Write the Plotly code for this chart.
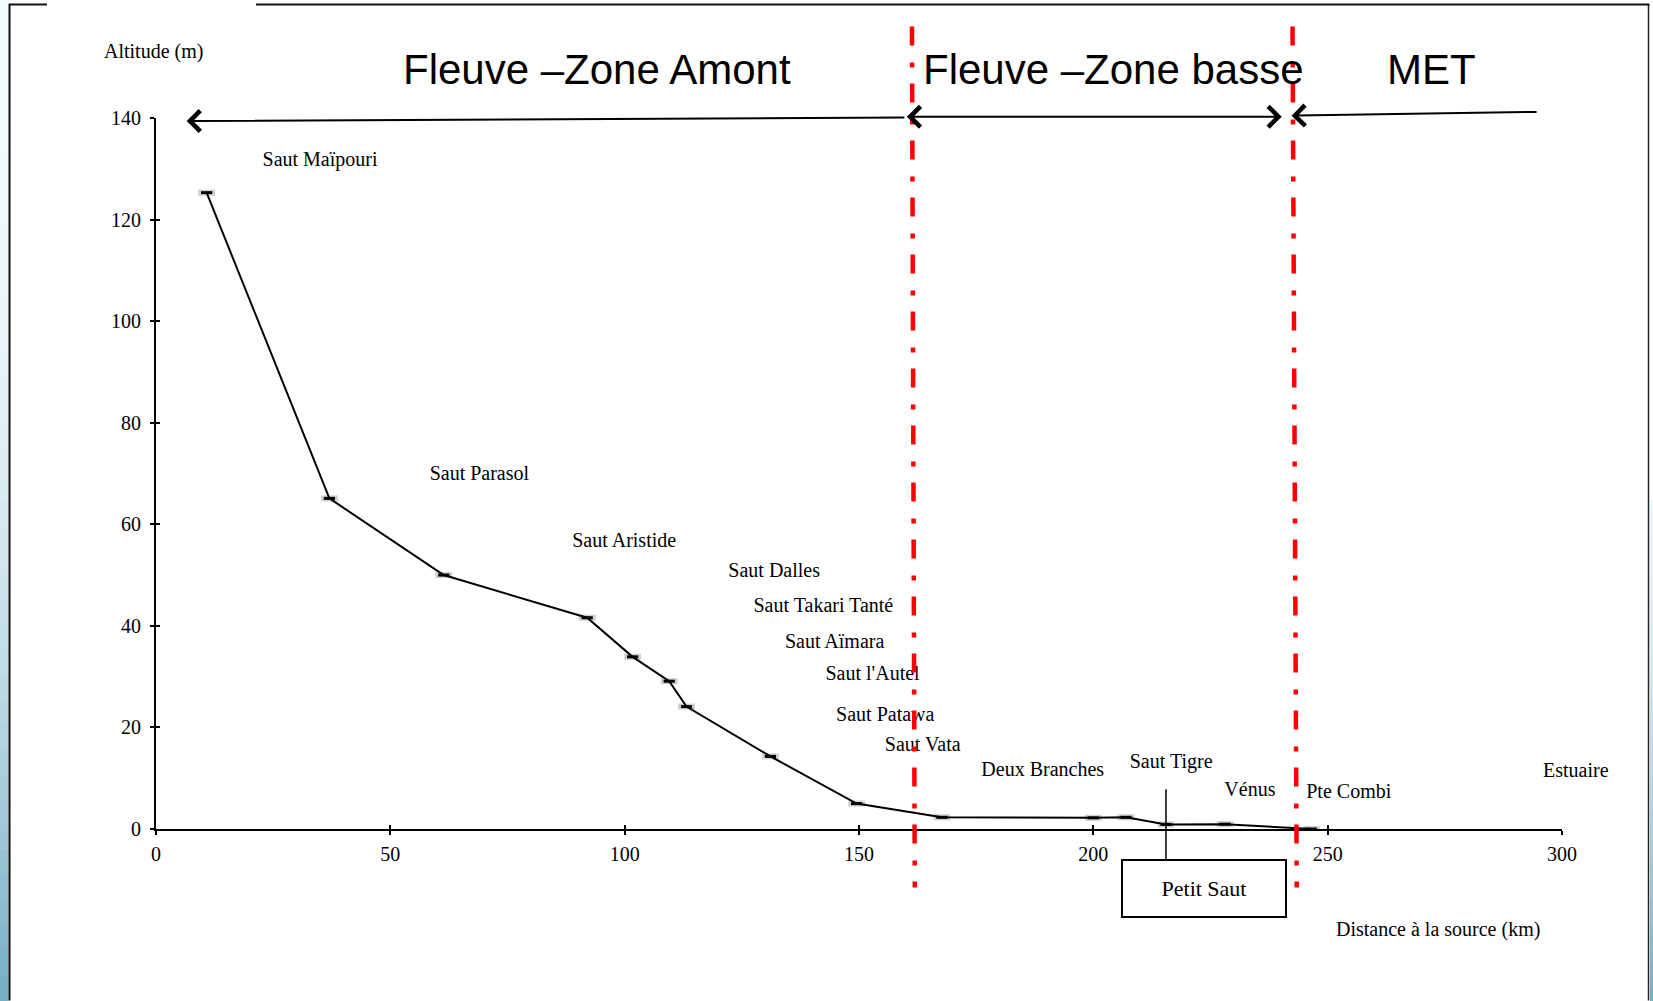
import plotly.graph_objects as go

W, H = 1653, 1001

# ---------------- data ----------------
DIST_KM = [10.8, 37.0, 61.4, 92.0, 101.7, 109.5, 113.2, 131.1, 149.5, 167.7, 200.0, 207.0, 215.5, 228.1, 246.5]
ALT_M = [125.3, 65.1, 50.0, 41.6, 33.9, 29.1, 24.1, 14.3, 5.0, 2.3, 2.2, 2.3, 0.9, 0.95, 0.0]

SITE_NAMES = ["Saut Maïpouri", "Saut Parasol", "Saut Aristide", "Saut Dalles",
              "Saut Takari Tanté", "Saut Aïmara", "Saut l'Autel", "Saut Patawa",
              "Saut Vata", "Deux Branches", "Saut Tigre", "Vénus", "Pte Combi"]
SITE_X = [35.0, 69.0, 99.9, 131.9, 142.4, 144.8, 152.9, 155.6, 163.6, 189.2, 216.6, 233.4, 254.5]
SITE_Y = [131.5, 69.8, 56.6, 50.7, 43.7, 36.6, 30.4, 22.2, 16.3, 11.4, 13.0, 7.4, 7.0]

ESTUARY = ("Estuaire", 303.0, 11.6)
Y_TITLE = ("Altitude (m)", -0.5, 153.0)
X_TITLE = ("Distance à la source (km)", 273.6, -19.7)

ZONE_NAMES = ["Fleuve \u2013Zone Amont", "Fleuve \u2013Zone basse", "MET"]
ZONE_X = [94.0, 204.3, 272.2]
ZONE_Y = [149.5, 149.5, 149.5]

# zone boundaries (km): top / bottom ends of the slightly slanted dash-dot lines
BOUND_TOP_KM = [161.3, 242.5]
BOUND_BOT_KM = [161.9, 243.4]
BOUND_TOP_ALT = 158.0
BOUND_BOT_ALT = -11.5

X_TICKS = [0, 50, 100, 150, 200, 250, 300]
Y_TICKS = [0, 20, 40, 60, 80, 100, 120, 140]
X_MAX, Y_MAX = 300, 140

PETIT_SAUT_KM = 215.5
BOX_CENTER = (223.6, -11.7)

# ---------------- layout geometry ----------------
ML, MR, MT, MB = 156, W - 1562, 118, H - 829.5
PW, PH = W - ML - MR, H - MT - MB


def px_x(p):
    return (p - ML) / PW


def px_y(p):
    return (H - MB - p) / PH


def xp(v):   # km -> paper
    return v / X_MAX


def yp(v):   # m -> paper
    return v / Y_MAX


SERIF = "Liberation Serif, Times New Roman, serif"
SANS = "Liberation Sans, Arial, sans-serif"

fig = go.Figure()

# shadow of markers
fig.add_trace(go.Scatter(
    x=DIST_KM, y=ALT_M, mode="markers",
    marker=dict(symbol="line-ew", size=12, line=dict(color="#cfcfcf", width=6)),
    hoverinfo="skip", showlegend=False))
# profile
fig.add_trace(go.Scatter(
    x=DIST_KM, y=ALT_M, mode="lines+markers",
    line=dict(color="black", width=2),
    marker=dict(symbol="line-ew", size=8, line=dict(color="black", width=3)),
    showlegend=False))
# site labels
fig.add_trace(go.Scatter(
    x=SITE_X, y=SITE_Y, mode="text", text=SITE_NAMES,
    textposition="middle center",
    textfont=dict(family=SERIF, size=20, color="black"),
    cliponaxis=False, hoverinfo="skip", showlegend=False))
# dummy trace for the overlay axes (cross ticks)
fig.add_trace(go.Scatter(x=[], y=[], xaxis="x2", yaxis="y2",
                         hoverinfo="skip", showlegend=False))

tickfont = dict(family=SERIF, size=20, color="black")
common = dict(showgrid=False, zeroline=False, automargin=False, fixedrange=True)

fig.update_layout(
    width=W, height=H,
    margin=dict(l=ML, r=MR, t=MT, b=MB, pad=0),
    paper_bgcolor="white", plot_bgcolor="rgba(0,0,0,0)",
    showlegend=False,
    xaxis=dict(range=[0, X_MAX], tickvals=X_TICKS, ticks="outside", ticklen=4,
               tickwidth=2, tickcolor="black", showline=True, linecolor="black",
               linewidth=2, tickfont=tickfont, ticklabelstandoff=2, **common),
    yaxis=dict(range=[0, Y_MAX], tickvals=Y_TICKS, ticks="outside", ticklen=4,
               tickwidth=2, tickcolor="black", showline=True, linecolor="black",
               linewidth=2, tickfont=tickfont, ticklabelstandoff=5, **common),
    xaxis2=dict(range=[0, X_MAX], tickvals=X_TICKS, ticks="inside", ticklen=4,
                tickwidth=2, tickcolor="black", showline=False, showticklabels=False,
                overlaying="x", anchor="y2", side="bottom", **common),
    yaxis2=dict(range=[0, Y_MAX], tickvals=Y_TICKS, ticks="inside", ticklen=4,
                tickwidth=2, tickcolor="black", showline=False, showticklabels=False,
                overlaying="y", anchor="x2", side="left", **common),
)

shapes = []
# slide-like background strip on the left (light blue gradient)
N = 40
for i in range(N):
    t = i / (N - 1)
    k = t ** 2.2
    c0, c1 = (244, 251, 253), (118, 176, 198)
    col = "rgb(%d,%d,%d)" % tuple(int(a + (b - a) * k) for a, b in zip(c0, c1))
    shapes.append(dict(type="rect", xref="paper", yref="paper",
                       x0=px_x(0), x1=px_x(8.5), y0=px_y(H * i / N), y1=px_y(H * (i + 1) / N + 1),
                       line=dict(width=0), fillcolor=col, layer="below"))
# right strip (lower part)
for i in range(N):
    t = i / (N - 1)
    k = t ** 1.5
    c0, c1 = (235, 245, 248), (118, 176, 198)
    col = "rgb(%d,%d,%d)" % tuple(int(a + (b - a) * k) for a, b in zip(c0, c1))
    y0p = 500 + (H - 500) * i / N
    y1p = 500 + (H - 500) * (i + 1) / N + 1
    shapes.append(dict(type="rect", xref="paper", yref="paper",
                       x0=px_x(1650), x1=px_x(W), y0=px_y(y0p), y1=px_y(y1p),
                       line=dict(width=0), fillcolor=col, layer="below"))
# frame
frame = dict(color="#111111", width=2)
shapes.append(dict(type="line", xref="paper", yref="paper", x0=px_x(9.5), x1=px_x(9.5),
                   y0=px_y(4), y1=px_y(H), line=frame))
shapes.append(dict(type="line", xref="paper", yref="paper", x0=px_x(9), x1=px_x(47),
                   y0=px_y(4.5), y1=px_y(4.5), line=frame))
shapes.append(dict(type="line", xref="paper", yref="paper", x0=px_x(256), x1=px_x(1649.5),
                   y0=px_y(4.5), y1=px_y(4.5), line=frame))
shapes.append(dict(type="line", xref="paper", yref="paper", x0=px_x(1648.5), x1=px_x(1648.5),
                   y0=px_y(4), y1=px_y(H), line=dict(color="#222222", width=1.5)))
# zone boundaries
for xt, xb in zip(BOUND_TOP_KM, BOUND_BOT_KM):
    shapes.append(dict(type="line", xref="x", yref="y domain",
                       x0=xt, x1=xb, y0=yp(BOUND_TOP_ALT), y1=yp(BOUND_BOT_ALT),
                       line=dict(color="#ff0000", width=4.5, dash="19px,17px,5px,16px"),
                       layer="above"))
fig.update_layout(shapes=shapes)

ann = []
arrow_style = dict(text="", showarrow=True, arrowhead=4, arrowsize=2,
                   arrowwidth=2, arrowcolor="black")
# upstream zone arrow (head on the left)
ann.append(dict(x=6.55, y=139.4, ax=160.0, ay=140.1, xref="x", yref="y",
                axref="x", ayref="y", **arrow_style))
# lower river zone: double arrow
ann.append(dict(x=240.2, y=yp(140.26), ax=159.9, ay=0, xref="x", yref="paper",
                axref="x", ayref="pixel", arrowside="end+start", **arrow_style))
# estuary (MET) arrow, head on the left
ann.append(dict(x=242.3, y=yp(140.45), ax=294.9, ay=-(141.2 - 140.45) * PH / Y_MAX,
                xref="x", yref="paper", axref="x", ayref="pixel", **arrow_style))
# pointer from Saut Tigre to Petit Saut box
ann.append(dict(x=PETIT_SAUT_KM, y=-6.45, ax=PETIT_SAUT_KM, ay=8.1, xref="x", yref="y",
                axref="x", ayref="y", text="", showarrow=True, arrowhead=0,
                arrowwidth=1.5, arrowcolor="black"))
# Petit Saut box
ann.append(dict(x=BOX_CENTER[0], y=yp(BOX_CENTER[1]), xref="x", yref="paper", text="Petit Saut",
                showarrow=False, font=dict(family=SERIF, size=22, color="black"),
                bordercolor="black", borderwidth=2, borderpad=0, bgcolor="white",
                width=162, height=55, xanchor="center", yanchor="middle"))
# zone titles
for name, zx, zy in zip(ZONE_NAMES, ZONE_X, ZONE_Y):
    ann.append(dict(x=zx, y=yp(zy), xref="x", yref="paper", text=name, showarrow=False,
                    font=dict(family=SANS, size=42, color="black"),
                    xanchor="center", yanchor="middle"))
# labels outside the axes
for name, lx, ly in [ESTUARY, Y_TITLE, X_TITLE]:
    ann.append(dict(x=xp(lx), y=yp(ly), xref="paper", yref="paper", text=name,
                    showarrow=False, font=dict(family=SERIF, size=20, color="black"),
                    xanchor="center", yanchor="middle"))
fig.update_layout(annotations=ann)

fig.write_html("out.html", config={"displayModeBar": False},
               post_script="document.body.style.margin='0';")
